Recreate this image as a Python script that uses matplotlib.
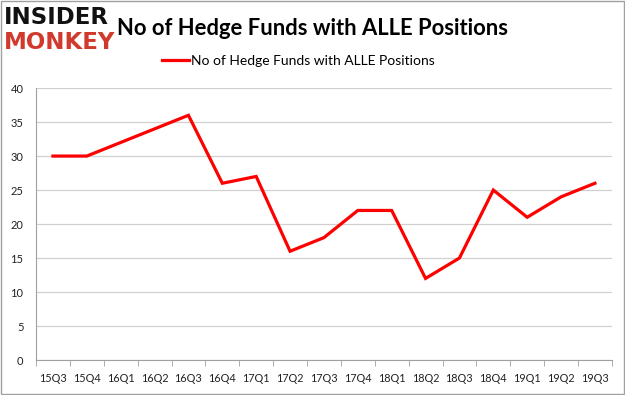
import matplotlib
matplotlib.use("Agg")
import matplotlib.pyplot as plt
from matplotlib.ticker import MultipleLocator, FixedLocator

quarters = ["15Q3", "15Q4", "16Q1", "16Q2", "16Q3", "16Q4", "17Q1", "17Q2", "17Q3",
            "17Q4", "18Q1", "18Q2", "18Q3", "18Q4", "19Q1", "19Q2", "19Q3"]
funds = [30, 30, 32, 34, 36, 26, 27, 16, 18, 22, 22, 12, 15, 25, 21, 24, 26]
series_name = "No of Hedge Funds with ALLE Positions"
title = "No of Hedge Funds with ALLE Positions"

plt.rcParams['font.family'] = ['Lato', 'DejaVu Sans']
fig = plt.figure(figsize=(6.25, 3.95), dpi=100)
fig.patch.set_facecolor("white")
ax = fig.add_axes([0.0576, 0.0886, 0.9214, 0.6884])

x = list(range(len(quarters)))
ax.plot(x, funds, color="#ff0000", linewidth=2.3, solid_joinstyle="miter", label=series_name)

ax.set_xlim(-0.5, len(quarters) - 0.5)
ax.set_ylim(0, 40)
ax.yaxis.set_major_locator(MultipleLocator(5))
ax.grid(axis="y", color="#d0d0d0", linewidth=0.9)
ax.set_axisbelow(True)
ax.set_xticks(x)
ax.set_xticklabels(quarters, fontsize=7.8, color="#222222")
ax.tick_params(axis="x", which="major", length=0, pad=9)
ax.xaxis.set_minor_locator(FixedLocator([i - 0.5 for i in range(len(quarters) + 1)]))
ax.tick_params(axis="x", which="minor", length=4, color="#a0a0a0")
ax.tick_params(axis="y", length=0, labelsize=8, labelcolor="#222222", pad=9)
for s in ["top", "right"]:
    ax.spines[s].set_visible(False)
for s in ["left", "bottom"]:
    ax.spines[s].set_color("#a0a0a0")

fig.text(0.187, 0.928, title, fontsize=15.8, fontweight="bold", ha="left", va="center")
fig.text(0.006, 0.955, "INSIDER", fontsize=16.5, fontweight="black", ha="left", va="center",
         color="#111111", family="DejaVu Sans")
fig.text(0.006, 0.893, "MONKEY", fontsize=16.5, fontweight="black", ha="left", va="center",
         color="#d0392b", family="DejaVu Sans")

leg = fig.legend(loc="center", bbox_to_anchor=(0.478, 0.845), frameon=False, fontsize=10,
                 handlelength=1.9, handletextpad=0.2)

border = plt.Rectangle((0.0016, 0.0025), 0.9968, 0.995, transform=fig.transFigure,
                       fill=False, edgecolor="#a0a0a0", linewidth=1.0)
fig.patches.append(border)

fig.savefig("out.png", dpi=100)
